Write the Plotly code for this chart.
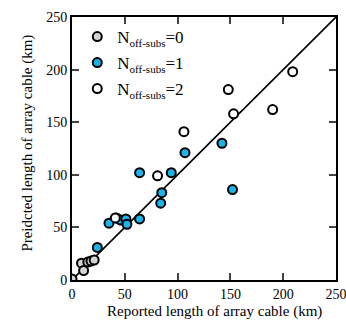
import plotly.graph_objects as go

x0 = [0, 9, 11, 15, 18, 21]
y0 = [1, 16, 9, 17, 18, 19]
x1 = [24, 35, 42, 46, 51, 52, 64, 64, 84, 85, 94, 107, 142, 152]
y1 = [31, 54, 59, 57, 58, 53, 58, 102, 73, 83, 102, 121, 130, 86]
x2 = [41, 81, 106, 148, 153, 190, 209]
y2 = [59, 99, 141, 181, 158, 162, 198]
line_xy = [0, 250]
ticks = [0, 50, 100, 150, 200, 250]
labels = ["N<sub><span style='font-size:11px'>off-subs</span></sub>=0",
          "N<sub><span style='font-size:11px'>off-subs</span></sub>=1",
          "N<sub><span style='font-size:11px'>off-subs</span></sub>=2"]

font = "Liberation Serif, Times New Roman, serif"
fig = go.Figure()
fig.add_trace(go.Scatter(x=line_xy, y=line_xy, mode="lines",
                         line=dict(color="black", width=1.6), showlegend=False))
mk = dict(size=9, line=dict(color="black", width=2))
fig.add_trace(go.Scatter(x=x0, y=y0, mode="markers", name=labels[0], legend="legend",
                         marker=dict(color="#d4d4d4", **mk)))
fig.add_trace(go.Scatter(x=x1, y=y1, mode="markers", name=labels[1], legend="legend2",
                         marker=dict(color="#1ab4ea", **mk)))
fig.add_trace(go.Scatter(x=x2, y=y2, mode="markers", name=labels[2], legend="legend3",
                         marker=dict(color="white", **mk)))

axis = dict(range=[0, 250], tickvals=ticks, ticks="inside", ticklen=7, tickwidth=1.5,
            showline=True, linecolor="black", linewidth=2, mirror="allticks",
            showgrid=False, zeroline=False, automargin=False, ticklabeloverflow="allow",
            tickfont=dict(size=14, color="black", family=font))
fig.update_xaxes(**axis)
fig.update_yaxes(**axis)

tfont = dict(size=15, color="black", family=font)
fig.add_annotation(text="Reported length of array cable (km)", xref="paper", yref="paper",
                   x=0.541, y=-0.118, xanchor="center", yanchor="middle",
                   showarrow=False, font=tfont)
fig.add_annotation(text="Preidcted length of array cable (km)", xref="paper", yref="paper",
                   x=-0.17, y=0.519, xanchor="center", yanchor="middle", textangle=-90,
                   showarrow=False, font=tfont)

leg = dict(xanchor="left", yanchor="middle", bgcolor="rgba(0,0,0,0)",
           font=dict(size=17, family=font, color="black"), x=0.02)
fig.update_layout(width=346, height=325, margin=dict(l=72, r=10, t=17, b=45),
                  plot_bgcolor="white", paper_bgcolor="white",
                  font=dict(family=font, color="black"),
                  legend=dict(**leg, y=(280 - 37) / 263),
                  legend2=dict(**leg, y=(280 - 63) / 263),
                  legend3=dict(**leg, y=(280 - 89) / 263))
fig.write_html("out.html")
